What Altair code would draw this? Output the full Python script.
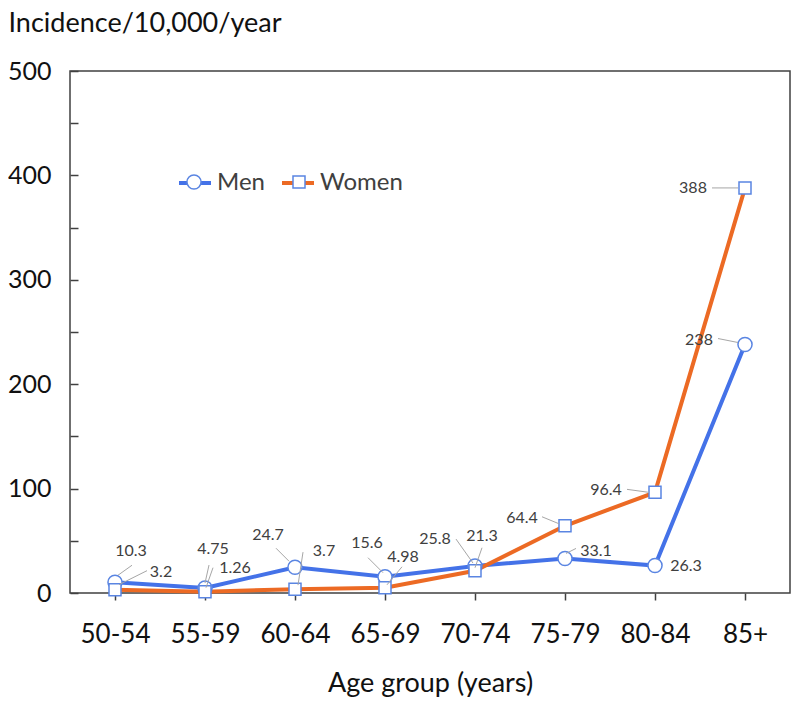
import altair as alt
import pandas as pd

AGE_GROUPS = ["50-54", "55-59", "60-64", "65-69", "70-74", "75-79", "80-84", "85+"]
MEN = [10.3, 4.75, 24.7, 15.6, 25.8, 33.1, 26.3, 238]
WOMEN = [3.2, 1.26, 3.7, 4.98, 21.3, 64.4, 96.4, 388]
SERIES = ["Men", "Women"]
Y_TICKS = list(range(0, 501, 50))

BLUE = "#4472E8"
ORANGE = "#EC6A24"
MARKER = "#5A85E2"
LEADER = "#A6A6A6"
TEXT = "#404040"
FONT = "Lato"

rows = []
for s, vals in zip(SERIES, [MEN, WOMEN]):
    for a, v in zip(AGE_GROUPS, vals):
        rows.append({"series": s, "age": a, "value": v, "key": f"{s}|{a}"})
df = pd.DataFrame(rows)

# label placement (pixel offsets from the point) and leader lines
LABEL_OFFSETS = {
    "Men": [(16, -31), (8, -39), (-27, -32), (-18, -34), (-40, -27), (31, -7), (31, 0), (-46, -5)],
    "Women": [(46, -18), (30, -24), (29, -38), (18, -31), (7, -35), (-43, -8), (-49, -2), (-52, 0)],
}
LEADERS = {
    "Men": [(3, -7, 17, -17), (0, -5, 4, -23), (-19, -19, -6, -6), (-17, -19, -2, -4),
            (-19, -27, -2, -3), (1, -5, 11, -10), None, (-27, -6, -7, -2)],
    "Women": [(4, -5, 32, -19), (1, -4, 8, -24), (3, -4, 8, -37), (2, -3, 17, -21),
              (0, -3, 7, -23), (-23, -9, -6, -2), (-28, -3, -6, 0), (-33, 0, -7, 0)],
}

SYM = 1024  # symbol area: paths span [-1, 1] -> 32 px
CIRCLE = "M-1,0M1,0M-0.44,0A0.44,0.44,0,1,1,0.44,0A0.44,0.44,0,1,1,-0.44,0Z"
SQUARE = "M-1,0M1,0M-0.375,-0.375H0.375V0.375H-0.375Z"

base = alt.Chart(df)

X = alt.X(
    "age:N",
    sort=AGE_GROUPS,
    scale=alt.Scale(type="point", domain=AGE_GROUPS, padding=0.5),
    axis=alt.Axis(
        title="Age group (years)",
        domain=False,
        ticks=True,
        tickSize=7,
        tickColor="#404040",
        tickWidth=1.5,
        labelPadding=21,
        labelFontSize=26,
        labelAngle=0,
        titleY=98,
        titleBaseline="alphabetic",
        titleFontSize=27,
    ),
)
Y = alt.Y(
    "value:Q",
    scale=alt.Scale(domain=[0, 500], nice=False, zero=True),
    axis=alt.Axis(
        title="Incidence/10,000/year",
        values=Y_TICKS,
        labelExpr="datum.value % 100 == 0 ? datum.label : ''",
        offset=-8,
        tickSize=8,
        tickColor="#404040",
        tickWidth=1.5,
        domain=False,
        grid=False,
        labelPadding=19,
        labelFontSize=25,
        titleAngle=0,
        titleAlign="left",
        titleBaseline="alphabetic",
        titleX=-70,
        titleY=-40,
        titleFontSize=27,
    ),
)

legend_common = dict(
    orient="none",
    legendX=107,
    legendY=94,
    direction="horizontal",
    title=None,
    symbolSize=SYM,
    labelFont=FONT,
    labelFontSize=24,
    labelColor=TEXT,
    labelOffset=4,
    padding=0,
)

lines = base.mark_line(strokeWidth=4).encode(
    x=X,
    y=Y,
    color=alt.Color(
        "series:N",
        scale=alt.Scale(domain=SERIES, range=[BLUE, ORANGE]),
        legend=alt.Legend(symbolType="stroke", symbolStrokeWidth=4,
                          columnPadding=9, **legend_common),
    ),
)

marker_legend = alt.Legend(
    symbolFillColor="white",
    symbolStrokeWidth=1.5,
    labelExpr="''",
    columnPadding=65,
    **legend_common,
)

points = base.transform_calculate(series_shape="datum.series").mark_point(
    size=SYM, fill="white", strokeWidth=1.5, opacity=1, filled=False
).encode(
    x=X,
    y=Y,
    shape=alt.Shape("series_shape:N", scale=alt.Scale(range=[CIRCLE, SQUARE]),
                    legend=marker_legend),
    stroke=alt.Stroke("series_shape:N", scale=alt.Scale(range=[MARKER, MARKER]),
                      legend=marker_legend),
)

layers = [lines, points]
for s in SERIES:
    for i, a in enumerate(AGE_GROUPS):
        key = f"{s}|{a}"
        ld = LEADERS[s][i]
        if ld is not None:
            layers.append(
                base.transform_filter(alt.datum.key == key)
                .mark_rule(color=LEADER, strokeWidth=1,
                           xOffset=ld[0], yOffset=ld[1], x2Offset=ld[2], y2Offset=ld[3])
                .encode(x=X, y=Y, x2=alt.X2("age"), y2=alt.Y2("value"))
            )
        dx, dy = LABEL_OFFSETS[s][i]
        layers.append(
            base.transform_filter(alt.datum.key == key)
            .mark_text(dx=dx, dy=dy, font=FONT, fontSize=16, color=TEXT,
                       align="center", baseline="middle")
            .encode(x=X, y=Y, text=alt.Text("value:Q", format=".3~g"))
        )

chart = (
    alt.layer(*layers)
    .properties(
        width=720,
        height=522,
        autosize=alt.AutoSizeParams(type="none"),
        padding={"left": 62, "top": 63, "right": 1, "bottom": 104},
        background="white",
    )
    .configure_view(stroke="#404040", strokeWidth=1.5)
    .configure_axis(
        labelFont=FONT,
        titleFont=FONT,
        labelColor="#111111",
        titleColor="#111111",
        titleFontWeight="normal",
    )
)

chart.save("out.html", embed_options={"renderer": "svg", "actions": False})
